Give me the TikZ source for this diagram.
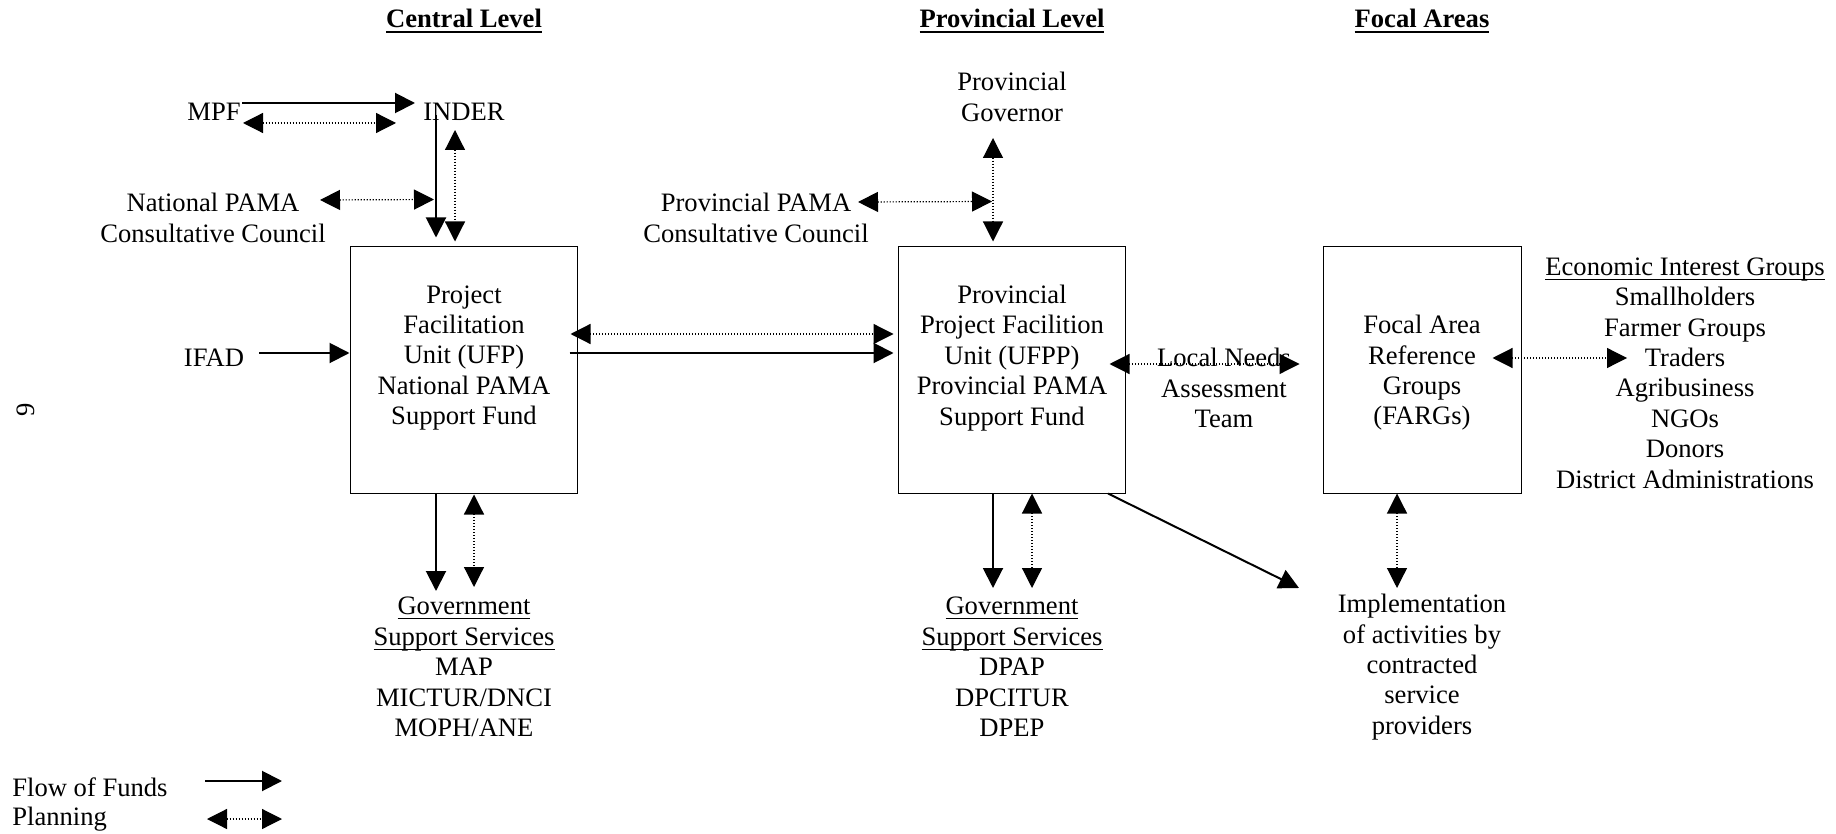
\documentclass[tikz,border=0pt]{standalone}
\usepackage{fontspec}
\setmainfont{Liberation Serif}
\usetikzlibrary{arrows.meta,calc}
\newcommand\ulx[3]{\leavevmode\setbox0\hbox{#3}\rlap{\rule[#1]{\wd0}{#2}}\box0}
\newcommand\hdrtxt[1]{\ulx{-3.2pt}{1.3pt}{\textbf{#1}}}
\newcommand\ulthin[1]{\ulx{-2.2pt}{0.5pt}{#1}}
\begin{document}
\begin{tikzpicture}[x=0.5pt,y=-0.5pt,
  lbl/.style={font=\fontsize{13.3}{15.2}\selectfont, align=center, inner sep=0pt},
  boxn/.style={draw, line width=0.5pt, inner sep=0pt, minimum height=123pt},
  fund/.style={line width=1pt, -{Triangle[length=10pt,width=10pt]}},
  plan/.style={line width=0.6pt, dash pattern=on 0.6pt off 0.9pt,
     {Triangle[length=10pt,width=10pt]}-{Triangle[length=10pt,width=10pt]}},
]
\useasboundingbox (0,0) rectangle (1836,834);

% headers
\node[lbl] (hc) at (464,21) {\hdrtxt{Central Level}};
\node[lbl] (hp) at (1012,21) {\hdrtxt{Provincial Level}};
\node[lbl] (hf) at (1422,21) {\hdrtxt{Focal Areas}};

% central level
\node[lbl] (mpf) at (214,112) {MPF};
\node[lbl] (inder) at (464,112) {INDER};
\node[lbl] (npcc) at (213,218) {National PAMA\\Consultative Council};
\node[lbl] (ifad) at (214,358) {IFAD};
\node[boxn, minimum width=113.5pt] (b1) at (463.5,370) {};
\node[lbl] (b1t) at (464,358) {Project\\Facilitation\\Unit (UFP)\\National PAMA\\Support Fund};
\node[lbl] (gss1) at (464,667) {\ulthin{Government}\\\ulthin{Support Services}\\MAP\\MICTUR/DNCI\\MOPH/ANE};

% provincial level
\node[lbl] (pgov) at (1012,97) {Provincial\\Governor};
\node[lbl] (ppcc) at (756,218) {Provincial PAMA\\Consultative Council};
\node[boxn, minimum width=113.5pt] (b2) at (1011.5,370) {};
\node[lbl] (b2t) at (1012,358) {Provincial\\Project Facilition\\Unit (UFPP)\\Provincial PAMA\\Support Fund};
\node[lbl] (gss2) at (1012,667) {\ulthin{Government}\\\ulthin{Support Services}\\DPAP\\DPCITUR\\DPEP};
\node[lbl] (lna) at (1224,388) {Local Needs\\Assessment\\Team};

% focal areas
\node[boxn, minimum width=99pt] (b3) at (1422,370) {};
\node[lbl] (b3t) at (1422,373) {Focal Area\\Reference\\Groups\\(FARGs)};
\node[lbl] (eig) at (1685,373) {\ulthin{Economic Interest Groups}\\Smallholders\\Farmer Groups\\Traders\\Agribusiness\\NGOs\\Donors\\District Administrations};
\node[lbl] (impl) at (1422,667) {Implementation\\of activities by\\contracted\\service\\providers};

% page number
\node[lbl, rotate=90] (pg) at (26,410) {9};

% legend
\node[lbl, anchor=west] (lf) at (12,787) {Flow of Funds};
\node[lbl, anchor=west] (lp) at (12,819) {Planning};
\coordinate (lfa) at (205,781);
\coordinate (lfb) at (282,781);
\coordinate (lpa) at (207,819);
\coordinate (lpb) at (282,819);
\draw[fund] (lfa) -- (lfb);
\draw[plan] (lpa) -- (lpb);

% central connectors
\draw[fund] ($(mpf)+(28,-9)$) -- ($(inder)+(-49,-9)$);
\draw[plan] ($(mpf)+(29,11)$) -- ($(inder)+(-68,11)$);
\draw[fund] ($(inder)+(-28,3)$) -- ($(b1.north)+(-27.5,-9)$);
\draw[plan] ($(inder)+(-9,18)$) -- ($(b1.north)+(-8.5,-5)$);
\draw[plan] ($(npcc)+(107,-18)$) -- ($(b1.north)+(-29.5,-47)$);
\draw[fund] ($(ifad)+(45,-5)$) -- ($(b1.west)+(0,-17)$);
\draw[plan] ($(b1.east)+(-7,-36)$) -- ($(b2.west)+(-4,-36)$);
\draw[fund] ($(b1.east)+(-8,-17)$) -- ($(b2.west)+(-4,-17)$);
\draw[fund] ($(b1.south)+(-27.5,0)$) -- ($(gss1)+(-28,-76)$);
\draw[plan] ($(b1.south)+(10.5,1)$) -- ($(gss1)+(10,-80)$);

% provincial connectors
\draw[plan] ($(pgov)+(-19,41)$) -- ($(b2.north)+(-18.5,-5)$);
\draw[plan] ($(ppcc)+(102,-16)$) -- ($(b2.north)+(-19.5,-45)$);
\draw[plan] ($(b2.east)+(-16,-6)$) -- ($(b3.west)+(-23,-6)$);
\draw[fund] ($(b2.south)+(-18.5,0)$) -- ($(gss2)+(-19,-79)$);
\draw[plan] ($(b2.south)+(20.5,0)$) -- ($(gss2)+(20,-79)$);
\draw[fund] ($(b2.south)+(96.5,0)$) -- ($(impl)+(-123,-79)$);

% focal connectors
\draw[plan] ($(b3.east)+(-29,-12)$) -- ($(eig)+(-58,-15)$);
\draw[plan] ($(b3.south)+(-25,0)$) -- ($(impl)+(-25,-79)$);
\end{tikzpicture}
\end{document}
